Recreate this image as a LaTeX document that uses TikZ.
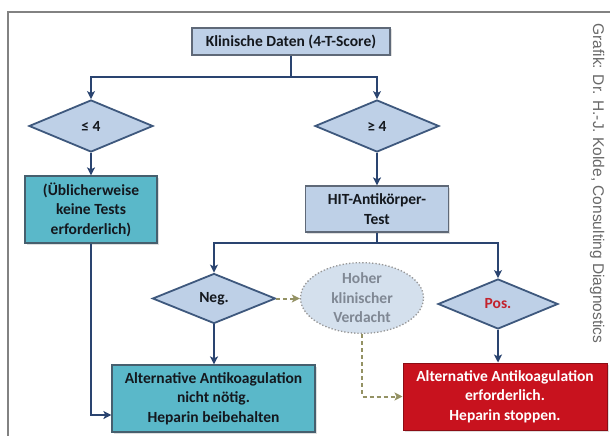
\documentclass[tikz,border=0pt]{standalone}
\usepackage{fontspec}
\setmainfont{Carlito}
\newfontfamily\creditfont{Liberation Sans}
\usetikzlibrary{shapes.geometric,arrows.meta,shadows}
\definecolor{boxblue}{RGB}{190,208,231}
\definecolor{boxedge}{RGB}{95,105,120}
\definecolor{diaedge}{RGB}{62,88,125}
\definecolor{arrowblue}{RGB}{42,68,112}
\definecolor{tealbox}{RGB}{90,184,201}
\definecolor{tealedge}{RGB}{70,95,110}
\definecolor{redbox}{RGB}{200,18,30}
\definecolor{olivedash}{RGB}{148,146,100}
\definecolor{ellfill}{RGB}{212,224,237}
\definecolor{elledge}{RGB}{150,150,150}
\definecolor{elltext}{RGB}{128,136,148}
\definecolor{framegray}{RGB}{130,130,130}
\definecolor{creditgray}{RGB}{105,105,105}
\definecolor{postext}{RGB}{195,35,45}
\definecolor{darktext}{RGB}{20,24,30}
\begin{document}
\begin{tikzpicture}[x=1pt,y=-1pt,
  font=\fontsize{15.5}{19.5}\selectfont\bfseries,
  shade/.style={drop shadow={opacity=0.25,shadow xshift=1.5pt,shadow yshift=-1.5pt}},
  bluebox/.style={draw=boxedge,line width=1.2pt,fill=boxblue,inner sep=0pt,align=center,text=darktext,shade},
  tealnode/.style={draw=tealedge,line width=1.2pt,fill=tealbox,inner sep=0pt,align=center,text=darktext,shade},
  rednode/.style={draw=redbox!70!black,line width=1pt,fill=redbox,inner sep=0pt,align=center,text=white,shade},
  dia/.style={diamond,draw=diaedge,line width=1.8pt,fill=boxblue,inner sep=0pt,aspect=2.4,text=darktext},
  ell/.style={ellipse,draw=elledge,dotted,line width=1.3pt,fill=ellfill,inner sep=0pt,align=center,text=elltext},
  conn/.style={draw=arrowblue,line width=1.8pt},
  arr/.style={conn,-{Stealth[length=8pt,width=8pt,inset=2pt]}},
  dasharr/.style={draw=olivedash,line width=2pt,dash pattern=on 4pt off 3pt,-{Stealth[length=8pt,width=8pt,inset=2pt]}}
]
\useasboundingbox (0,0) rectangle (610,436);
\fill[white] (0,0) rectangle (610,436);
% frame
\draw[framegray,line width=1.5pt] (610,12) -- (8,12) -- (8,436);
% nodes
\node[bluebox,minimum width=198pt,minimum height=27pt] (top) at (291,41.5) {Klinische Daten (4-T-Score)};
\node[dia,minimum width=124pt,minimum height=52pt] (le) at (91,126) {≤ 4};
\node[dia,minimum width=124pt,minimum height=52pt] (ge) at (377,126) {≥ 4};
\node[tealnode,minimum width=132pt,minimum height=67pt] (lbox) at (91,209.5) {(Üblicherweise\\keine Tests\\erforderlich)};
\node[bluebox,minimum width=143pt,minimum height=46pt] (hit) at (377,209) {HIT-Antikörper-\\Test};
\node[dia,minimum width=123pt,minimum height=50pt] (neg) at (214,298.5) {Neg.};
\node[dia,minimum width=120pt,minimum height=50pt,text=postext] (pos) at (498,304) {Pos.};
\node[ell,minimum width=123pt,minimum height=69pt] (ell) at (362,298) {Hoher\\klinischer\\Verdacht};
\node[tealnode,minimum width=203pt,minimum height=67pt] (bl) at (213.5,398.5) {Alternative Antikoagulation\\nicht nötig.\\Heparin beibehalten};
\node[rednode,minimum width=204pt,minimum height=67pt] (red) at (505,396.5) {Alternative Antikoagulation\\erforderlich.\\Heparin stoppen.};
\node[rotate=-90,text=creditgray,font=\creditfont\fontsize{15.5}{18}\selectfont] (credit) at (597,183.5) {Grafik: Dr. H.-J. Kolde, Consulting Diagnostics};
% connectors
\coordinate (j1) at (291,77);
\coordinate (j2) at (377,243);
\draw[conn] (top.south) -- (j1);
\draw[arr] (j1) -| (le.north);
\draw[arr] (j1) -| (ge.north);
\draw[arr] (le.south) -- (lbox.north);
\draw[arr] (ge.south) -- (hit.north);
\draw[conn] (hit.south) -- (j2);
\draw[arr] (j2) -| (neg.north);
\draw[arr] (j2) -| (pos.north);
\draw[arr] (neg.south) -- (neg.south |- bl.north);
\draw[arr] (pos.south) -- (pos.south |- red.north);
\draw[arr] (lbox.south) |- ([yshift=-16.5pt]bl.west);
\draw[dasharr] (neg.east) -- (neg.east -| ell.west);
\draw[dasharr] (ell.south) |- (red.west);
\end{tikzpicture}
\end{document}
